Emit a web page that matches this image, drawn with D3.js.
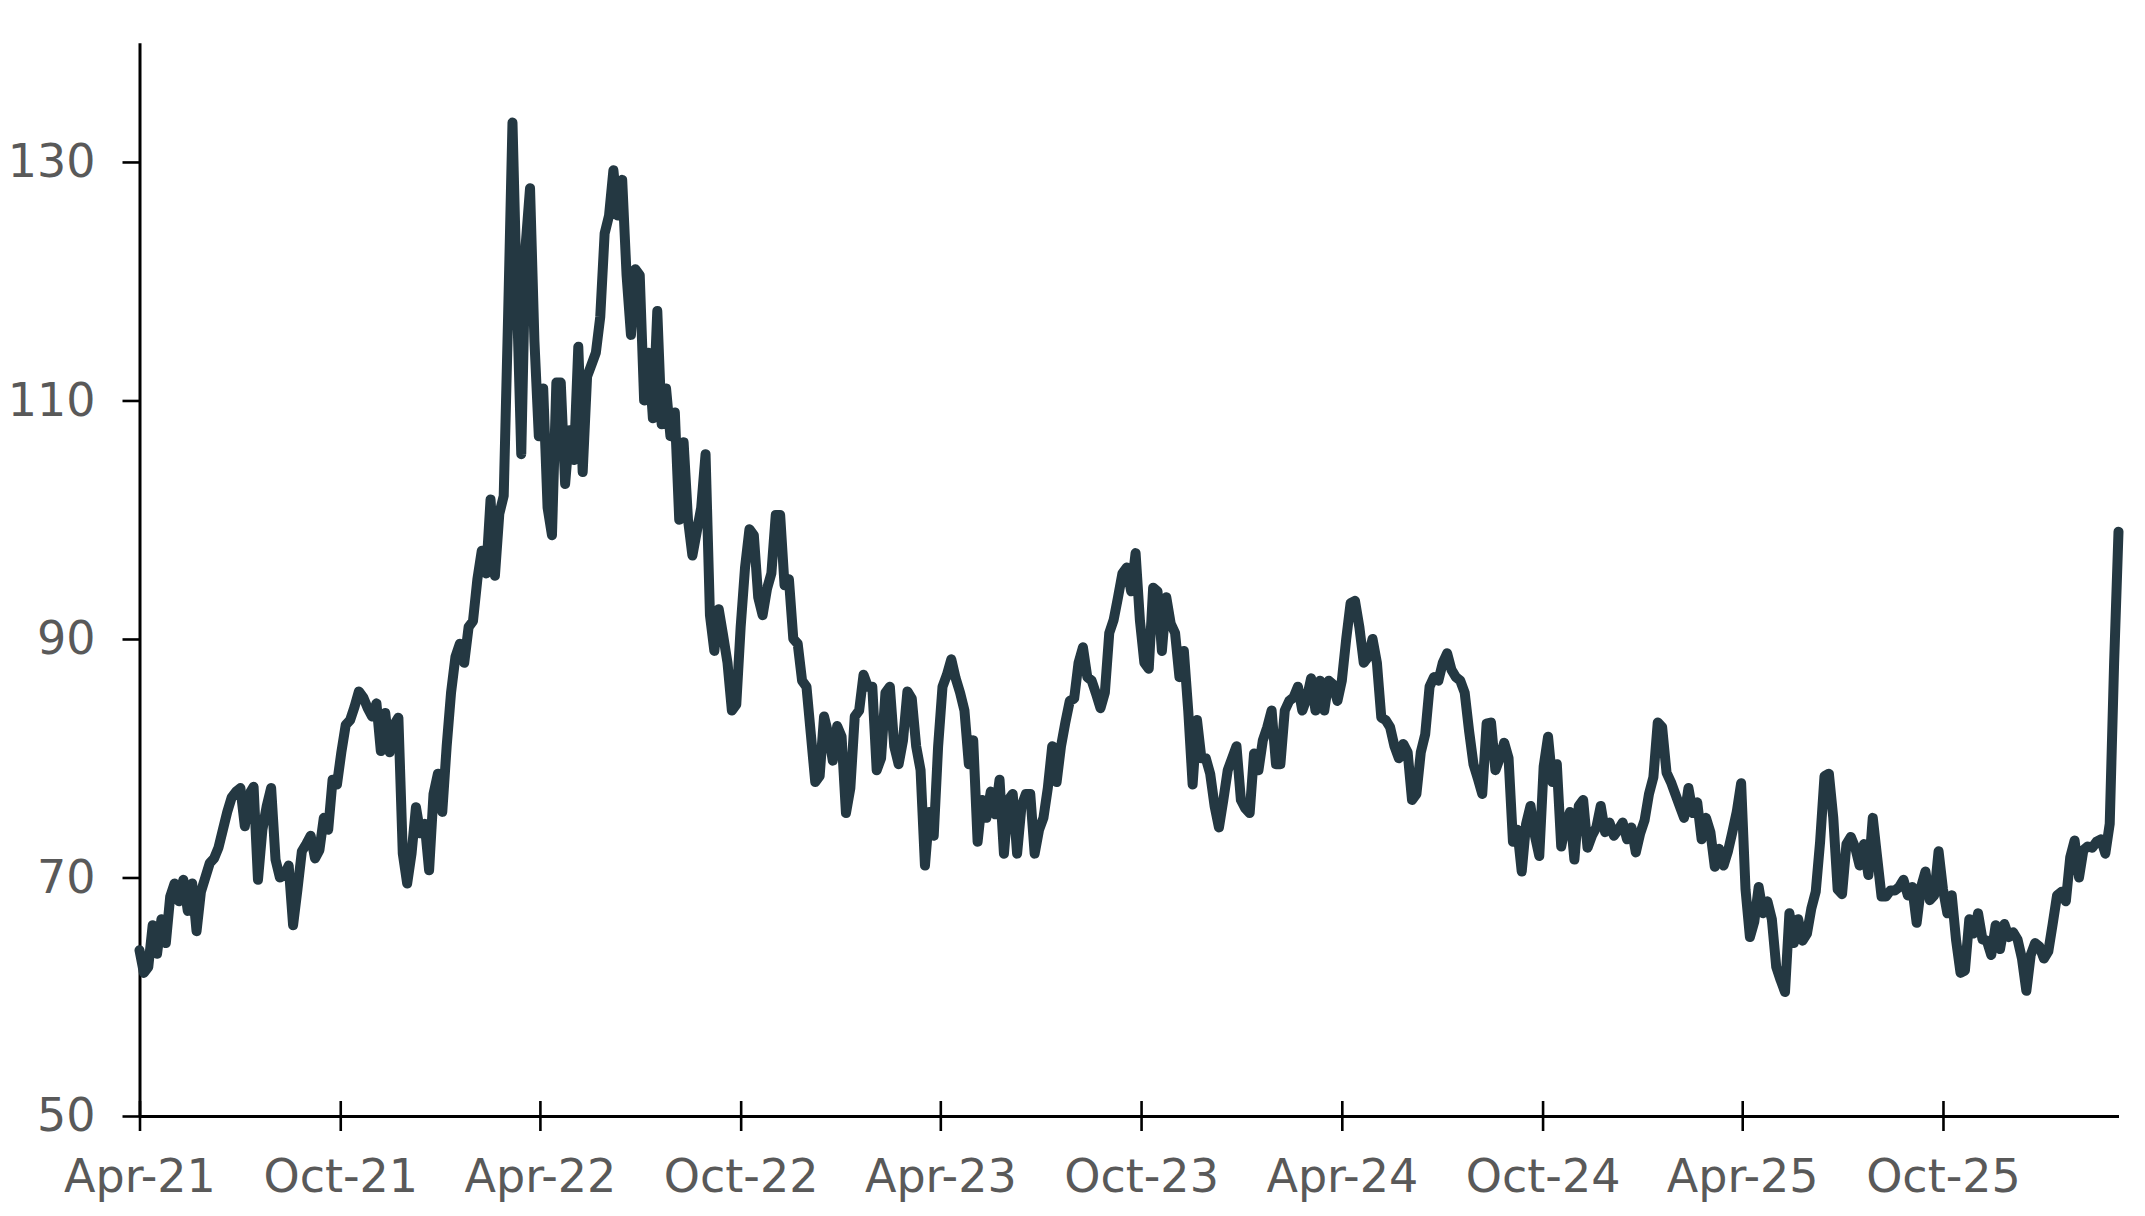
<!DOCTYPE html>
<html>
<head>
<meta charset="utf-8">
<script src="https://cdn.jsdelivr.net/npm/d3@7"></script>
<style>
  html, body { margin: 0; padding: 0; background: #fff; }
  svg { display: block; }
</style>
</head>
<body>
<script>
const w = 2145;
const h = 1216;

// series, one value every 4 days from startDate
const startDate = "2021-04-01";
const stepDays = 4;

const values2021 = [
  63.9, 62, 62.5, 66, 63.6, 66.5, 64.5, 68.4, 69.5, 68,
  69.8, 67.2, 69.5, 65.5, 68.8, 70, 71.2, 71.6, 72.5, 74,
  75.5, 76.7, 77.2, 77.5, 74.3, 77, 77.6, 69.8, 74, 76,
  77.5, 71.5, 70, 70.2, 71, 66, 69, 72.2, 72.8, 73.5,
  71.6, 72.3, 75, 74, 78.2, 77.8, 80.5, 82.8, 83.2, 84.3,
  85.6, 85.1, 84.2, 83.5, 84.6, 80.6, 83.8, 80.5, 82.8, 83.4,
  72, 69.5, 72, 75.9, 73.7, 74.5, 70.6, 77, 78.7
];
const values2022 = [
  75.5,
  81, 85.5, 88.5, 89.6, 88, 91, 91.5, 95, 97.4, 95.5,
  101.7, 95.3, 100.5, 102, 117, 133.3, 118.8, 105.5, 123, 127.8,
  115, 107, 111, 101, 98.7, 111.5, 111.5, 103, 107.5, 105,
  114.5, 104, 112, 113, 114, 117, 124, 125.5, 129.3, 125.5,
  128.5, 120.5, 115.5, 121, 120.5, 110, 114, 108.5, 117.5, 108,
  111, 107, 109, 100, 106.5, 100, 97, 99, 101, 105.5,
  92, 89, 92.5, 90.3, 88, 84, 84.5, 91, 96, 99.2,
  98.7, 93.5, 92, 94.2, 95.5, 100.4, 100.4, 94.5, 95, 90,
  89.6, 86.5, 86, 82, 78, 78.5, 83.5, 82, 79.8, 82.7
];
const values2023 = [
  81.8, 75.4, 77.5, 83.5, 84, 87, 86, 86, 79, 80,
  85.5, 86, 81, 79.5, 81.5, 85.6, 85, 81, 79, 71,
  75.5, 73.5, 81, 86, 87, 88.3, 86.7, 85.5, 84, 79.5,
  81.5, 73, 76.5, 75, 77.2, 75.3, 78.2, 72, 76.5, 77,
  72, 76, 77, 77, 72, 74, 75, 77.5, 81, 78,
  81, 83, 84.8, 85, 88, 89.3, 86.8, 86.5, 85.4, 84.2,
  85.5, 90.5, 91.6, 93.5, 95.5, 96, 94, 97.2, 91.5, 88,
  87.5, 94.3, 94, 89, 93.5, 91.3, 90.5, 86.8, 89, 84,
  77.8, 83.2, 80, 80, 78.7, 76, 74.2, 76.5, 79, 80,
  81, 76.5
];
const values2024 = [
  75.8, 75.4, 80.4, 79, 81.5, 82.6, 84, 79.5,
  79.5, 84, 84.8, 85.1, 86, 84, 85, 86.7, 84, 86.5,
  84, 86.5, 86.2, 84.8, 86.5, 90, 93, 93.2, 91, 88,
  88.5, 90, 88, 83.4, 83.2, 82.6, 81, 80, 81.2, 80.5,
  76.5, 77, 80.5, 82, 86, 86.8, 86.5, 88, 88.8, 87.4,
  86.8, 86.5, 85.5, 82.3, 79.5, 78.3, 77, 82.9, 83, 79,
  80, 81.3, 80, 73, 74, 70.5, 74.5, 76, 73.5, 71.8,
  79.3, 81.8, 78, 79.5, 72.6, 74.5, 75.5, 71.5, 76, 76.5,
  72.5, 73.5, 74.2, 76, 73.8, 74.6, 73.5, 74, 74.6, 73.2,
  74.2, 72.1, 73.7
];
const values2025 = [
  74.8, 77, 78.4, 83, 82.6, 78.8, 78,
  77, 76, 75, 77.5, 75.4, 76.3, 73.2, 75, 73.8, 70.9,
  72.4, 71, 72.2, 73.8, 75.5, 77.9, 69, 65, 66.3, 69.2,
  67, 68, 66.5, 62.5, 61.4, 60.4, 67, 64.5, 66.5, 64.7,
  65.3, 67.4, 68.8, 73, 78.5, 78.7, 75, 69, 68.6, 72.8,
  73.4, 72.5, 71, 72.8, 70.2, 75, 71.7, 68.4, 68.4, 68.9,
  68.9, 69.2, 69.8, 68.5, 69.2, 66.2, 69.2, 70.5, 68.1, 68.5,
  72.2, 69, 67, 68.5, 64.7, 62, 62.2, 66.5, 65.3, 67,
  64.8, 64.7, 63.5, 66, 64, 66.1, 65, 65.4, 64.8, 63.2,
  60.5, 63.5, 64.5, 64.2
];
const values2026 = [
  63.2, 63.8, 66.1, 68.5, 68.8, 68,
  71.7, 73.1, 70, 72.3, 72.6, 72.5, 73, 73.2, 72, 74.5,
  88, 99
];

const xTickDates = ["2021-04-01", "2021-10-01", "2022-04-01", "2022-10-01", "2023-04-01",
  "2023-10-01", "2024-04-01", "2024-10-01", "2025-04-01", "2025-10-01"];
const xTickLabels = ["Apr-21", "Oct-21", "Apr-22", "Oct-22", "Apr-23",
  "Oct-23", "Apr-24", "Oct-24", "Apr-25", "Oct-25"];
const yTicks = [50, 70, 90, 110, 130];

const parseDate = d3.timeParse("%Y-%m-%d");
const start = parseDate(startDate);
const allValues = [].concat(values2021, values2022, values2023, values2024, values2025, values2026);
const datas = allValues.map((v, i) => ({date: d3.timeDay.offset(start, i * stepDays), value: v}));

const plotLeft = 139.5;
const plotRight = 2118.5;
const plotTop = 42.7;
const plotBottom = 1116;

const svg = d3.select("body")
  .append("svg")
  .attr("width", w)
  .attr("height", h)
  .style("background", "#fff");

const xScale = d3.scaleTime()
  .domain([start, datas[datas.length - 1].date])
  .range([plotLeft, plotRight]);

const yScale = d3.scaleLinear()
  .domain([50, 140])
  .range([plotBottom, plotTop]);

const yAxis = d3.axisLeft(yScale)
  .tickValues(yTicks)
  .tickSize(17)
  .tickSizeOuter(0)
  .tickPadding(27);

const xAxis = d3.axisBottom(xScale)
  .tickValues(xTickDates.map(parseDate))
  .tickFormat((d, i) => xTickLabels[i])
  .tickSize(15)
  .tickSizeOuter(0)
  .tickPadding(28);

const gy = svg.append("g")
  .attr("transform", "translate(" + plotLeft + ",0)")
  .attr("id", "y-axis")
  .call(yAxis);

const gx = svg.append("g")
  .attr("transform", "translate(0," + plotBottom + ")")
  .attr("id", "x-axis")
  .call(xAxis);

// x ticks cross the axis line
gx.selectAll(".tick line").attr("y1", -15);

[gx, gy].forEach(g => {
  g.attr("font-family", "'DejaVu Sans', Verdana, sans-serif")
    .attr("font-size", 46)
    .style("color", "#000");
  g.select(".domain").attr("stroke-width", 3);
  g.selectAll(".tick line").attr("stroke-width", 2.6);
  g.selectAll(".tick text").attr("fill", "#595959");
});

const line = d3.line()
  .x(d => xScale(d.date))
  .y(d => yScale(d.value));

svg.append("path")
  .datum(datas)
  .attr("d", line)
  .attr("fill", "none")
  .attr("stroke", "#243842")
  .attr("stroke-width", 10)
  .attr("stroke-linejoin", "round")
  .attr("stroke-linecap", "round");
</script>
</body>
</html>
